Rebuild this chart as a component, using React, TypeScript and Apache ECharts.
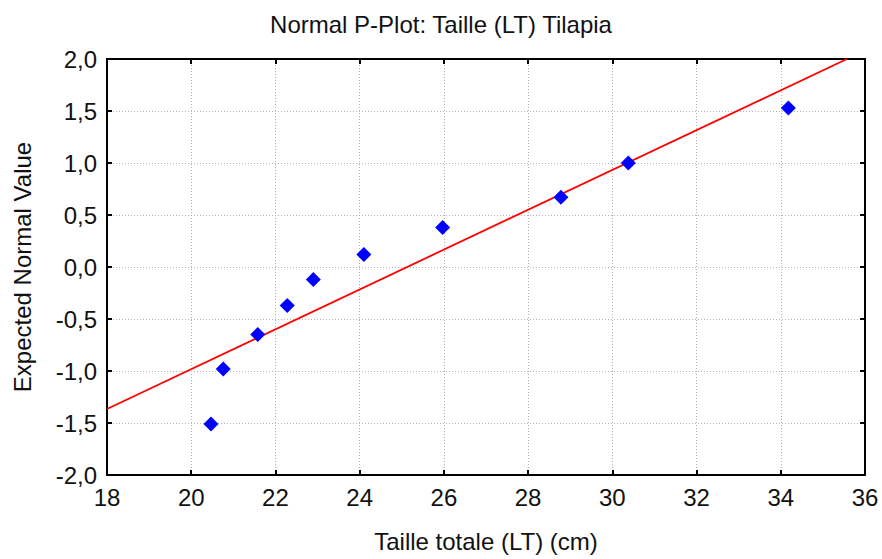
import React, { useEffect, useRef } from "react";
import * as echarts from "echarts";

// Observed total length (cm) and the expected normal score of each ranked fish
const lengthCm = [20.47, 20.76, 21.58, 22.28, 22.9, 24.1, 25.97, 28.78, 30.38, 34.18];
const expectedNormal = [-1.51, -0.98, -0.65, -0.37, -0.12, 0.12, 0.38, 0.67, 1.0, 1.53];

// Reference (fitted) normal line, given by its two end points
const fitLineX = [18, 35.57];
const fitLineY = [-1.365, 2.0];

const xMin = 18;
const xMax = 36;
const xStep = 2;
const yMin = -2;
const yMax = 2;
const yStep = 0.5;

const FONT = "Liberation Sans, Arial, Helvetica, sans-serif";
const TEXT = "#111111";
const FS = 24;

const fmtY = (v: number) => v.toFixed(1).replace(".", ",");

export default function App() {
  const ref = useRef<HTMLDivElement>(null);

  useEffect(() => {
    if (!ref.current) return;
    const chart = echarts.init(ref.current, undefined, { renderer: "svg" });

    const gridLine = {
      show: true,
      lineStyle: { color: "#b4b4b4", width: 1, type: [1, 2] as number[] },
    };
    const axisLine = { show: true, onZero: false, lineStyle: { color: "#000", width: 2 } };
    const tick = { show: true, inside: true, length: 5, lineStyle: { color: "#000", width: 2 } };

    chart.setOption({
      animation: false,
      backgroundColor: "#fff",
      title: {
        text: "Normal P-Plot: Taille (LT) Tilapia",
        left: "center",
        top: 7,
        textStyle: { fontFamily: FONT, fontSize: FS, fontWeight: "normal", color: TEXT },
      },
      grid: { left: 107, right: 17, top: 59, bottom: 84, containLabel: false },
      xAxis: [
        {
          type: "value",
          min: xMin,
          max: xMax,
          interval: xStep,
          position: "bottom",
          name: "Taille totale (LT) (cm)",
          nameLocation: "middle",
          nameGap: 54,
          nameTextStyle: { fontFamily: FONT, fontSize: FS, color: TEXT },
          axisLine,
          axisTick: tick,
          axisLabel: { fontFamily: FONT, fontSize: FS, color: TEXT, margin: 10 },
          splitLine: gridLine,
        },
        {
          type: "value",
          min: xMin,
          max: xMax,
          interval: xStep,
          position: "top",
          axisLine,
          axisTick: tick,
          axisLabel: { show: false },
          splitLine: { show: false },
        },
      ],
      yAxis: [
        {
          type: "value",
          min: yMin,
          max: yMax,
          interval: yStep,
          position: "left",
          name: "Expected Normal Value",
          nameLocation: "middle",
          nameGap: 73,
          nameTextStyle: { fontFamily: FONT, fontSize: FS, color: TEXT },
          axisLine,
          axisTick: tick,
          axisLabel: { fontFamily: FONT, fontSize: FS, color: TEXT, margin: 10, formatter: fmtY },
          splitLine: gridLine,
        },
        {
          type: "value",
          min: yMin,
          max: yMax,
          interval: yStep,
          position: "right",
          axisLine,
          axisTick: tick,
          axisLabel: { show: false },
          splitLine: { show: false },
        },
      ],
      series: [
        {
          type: "line",
          data: fitLineX.map((x, i) => [x, fitLineY[i]]),
          showSymbol: false,
          symbol: "none",
          lineStyle: { color: "#ff0000", width: 1.8 },
          z: 2,
          silent: true,
        },
        {
          type: "scatter",
          data: lengthCm.map((x, i) => [x, expectedNormal[i]]),
          symbol: "diamond",
          symbolSize: 15,
          itemStyle: { color: "#0000ff", opacity: 1 },
          z: 3,
        },
      ],
    });

    return () => chart.dispose();
  }, []);

  return (
    <div
      ref={ref}
      style={{ position: "fixed", left: 0, top: 0, width: 882, height: 559, background: "#fff" }}
    />
  );
}
